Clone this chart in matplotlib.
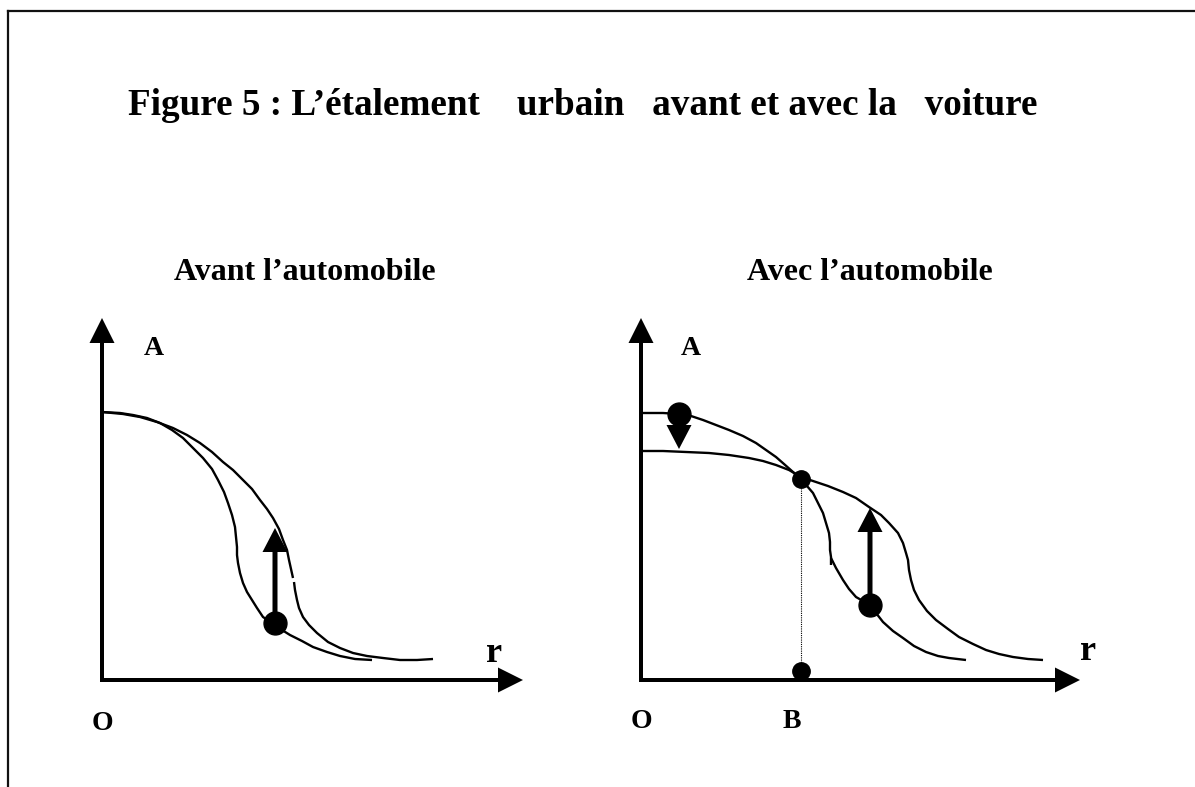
import numpy as np
import matplotlib
matplotlib.use('Agg')
import matplotlib.pyplot as plt
from matplotlib.lines import Line2D

plt.rcParams['font.family'] = ['Liberation Serif', 'DejaVu Serif']
plt.rcParams['font.weight'] = 'bold'

# ---- data (r = distance, A = value, in px from origin) ----
# left panel : before the car
avant_inner_r = [0, 18, 31, 45, 58, 70, 81, 91, 101, 110, 116, 122, 126, 130, 133, 134, 135,
                 135, 136, 138, 141, 145, 150, 155, 161, 173, 180, 188, 200, 211, 225, 238, 253, 270]
avant_inner_a = [268, 267, 265, 262, 257, 250, 242, 232, 222, 211, 200, 188, 177, 165, 153, 143, 133,
                 125, 117, 107, 97, 88, 80, 72, 63, 55, 50, 45, 39, 33, 28, 24, 21, 20]
avant_outer_top_r = [0, 21, 38, 55, 71, 85, 98, 110, 121, 131, 141, 150, 158, 165, 171, 177,
                     181, 185, 187, 189, 191]
avant_outer_top_a = [268, 266, 263, 258, 252, 245, 237, 228, 218, 210, 200, 191, 180, 171, 162, 151,
                     140, 130, 120, 111, 102]
avant_outer_low_r = [192, 193, 195, 197, 201, 207, 215, 226, 238, 251, 265, 281, 298, 315, 331]
avant_outer_low_a = [98, 90, 80, 72, 63, 55, 47, 38, 32, 27, 24, 22, 20, 20, 21]
avant_dot = (173, 57)
avant_arrow_tip = 152

# right panel : with the car
avec_high_r = [0, 12, 22, 38, 50, 62, 75, 88, 102, 115, 125, 135, 143, 152, 160, 166, 172, 177,
               182, 185, 188, 189, 189, 190, 190]
avec_high_a = [267, 267, 267, 266, 264, 260, 255, 250, 244, 237, 230, 223, 216, 208, 201, 194, 187, 177,
               167, 157, 147, 138, 130, 123, 115]
avec_high_low_r = [190, 195, 202, 208, 215, 222, 228, 235, 242, 252, 262, 273, 285, 297, 308, 325]
avec_high_low_a = [122, 112, 100, 91, 83, 79, 75, 67, 58, 49, 42, 34, 28, 24, 22, 20]
avec_flat_r = [0, 22, 45, 68, 88, 108, 122, 135, 148, 160, 172, 187, 202, 215, 228, 240, 248, 257,
               262, 265, 267, 268, 270, 273, 278, 286, 295, 307, 318, 332, 345, 358, 372, 387, 402]
avec_flat_a = [229, 229, 228, 227, 225, 222, 219, 215, 210, 203, 199, 194, 188, 182, 173, 165, 157, 147,
               137, 127, 120, 110, 100, 90, 80, 69, 60, 51, 43, 36, 30, 26, 23, 21, 20]
avec_top_dot = (38, 266)
avec_down_tip = 231
avec_cross = (160, 201)
avec_b = (160, 9)
avec_dot = (229, 75)
avec_up_tip = 172

W, H = 1195, 787
fig = plt.figure(figsize=(W / 100, H / 100), dpi=100)

# frame (top and left only)
fig.add_artist(Line2D([8 / W, 1], [1 - 11 / H, 1 - 11 / H], color='#111111', lw=1.6))
fig.add_artist(Line2D([8 / W, 8 / W], [1 - 11 / H, 0], color='#111111', lw=1.6))

fig.text(128 / W, 1 - 115 / H, 'Figure 5 : L’étalement    urbain   avant et avec la   voiture',
         fontsize=26.7, fontweight='bold', ha='left', va='baseline')
fig.text(305 / W, 1 - 280 / H, 'Avant l’automobile', fontsize=23, fontweight='bold',
         ha='center', va='baseline')
fig.text(870 / W, 1 - 280 / H, 'Avec l’automobile', fontsize=23, fontweight='bold',
         ha='center', va='baseline')


def make_panel(x0, y0, pw, ph):
    ax = fig.add_axes([x0 / W, (H - y0) / H, pw / W, ph / H])
    ax.set_xlim(0, pw)
    ax.set_ylim(0, ph)
    ax.axis('off')
    return ax


def axes_arrows(ax, xlen, ylen):
    kw = dict(width=4, head_width=25, head_length=25, length_includes_head=True,
              fc='k', ec='k', lw=0, clip_on=False)
    ax.arrow(0, -2, 0, ylen + 2, **kw)
    ax.arrow(-2, 0, xlen + 2, 0, **kw)


def move_arrow(ax, x, y0, y1):
    ax.arrow(x, y0, 0, y1 - y0, width=5, head_width=25, head_length=24,
             length_includes_head=True, fc='k', ec='k', lw=0, zorder=4)


lab = dict(fontweight='bold', ha='center', va='center')
curve = dict(color='k', lw=1.7, solid_capstyle='butt')

# left panel
ax1 = make_panel(102, 680, 425, 365)
axes_arrows(ax1, 421, 362)
ax1.plot(avant_inner_r, avant_inner_a, **curve)
ax1.plot(avant_outer_top_r, avant_outer_top_a, **curve)
ax1.plot(avant_outer_low_r, avant_outer_low_a, **curve)
move_arrow(ax1, avant_dot[0], avant_dot[1], avant_arrow_tip)
ax1.plot(*avant_dot, 'o', color='k', ms=16.5, zorder=5)
ax1.text(52, 331, 'A', fontsize=20, **lab)
ax1.text(392, 27, 'r', fontsize=26, **lab)
ax1.text(0, -43, 'O', fontsize=20, clip_on=False, **lab)

# right panel
ax2 = make_panel(641, 680, 442, 365)
axes_arrows(ax2, 439, 362)
ax2.plot(avec_high_r, avec_high_a, **curve)
ax2.plot(avec_high_low_r, avec_high_low_a, **curve)
ax2.plot(avec_flat_r, avec_flat_a, **curve)
ax2.plot([avec_cross[0], avec_b[0]], [avec_cross[1], avec_b[1]], color='k', lw=0.8,
         dashes=(1, 1))
move_arrow(ax2, avec_top_dot[0], avec_top_dot[1], avec_down_tip)
move_arrow(ax2, avec_dot[0], avec_dot[1], avec_up_tip)
ax2.plot(*avec_top_dot, 'o', color='k', ms=16.5, zorder=5)
ax2.plot(*avec_dot, 'o', color='k', ms=16.5, zorder=5)
ax2.plot(*avec_cross, 'o', color='k', ms=12.5, zorder=5)
ax2.plot(*avec_b, 'o', color='k', ms=12.5, zorder=5, clip_on=False)
ax2.text(50, 331, 'A', fontsize=20, **lab)
ax2.text(447, 28, 'r', fontsize=26, clip_on=False, **lab)
ax2.text(0, -42, 'O', fontsize=20, clip_on=False, **lab)
ax2.text(151, -42, 'B', fontsize=20, clip_on=False, **lab)

fig.savefig('out.png', dpi=100)
